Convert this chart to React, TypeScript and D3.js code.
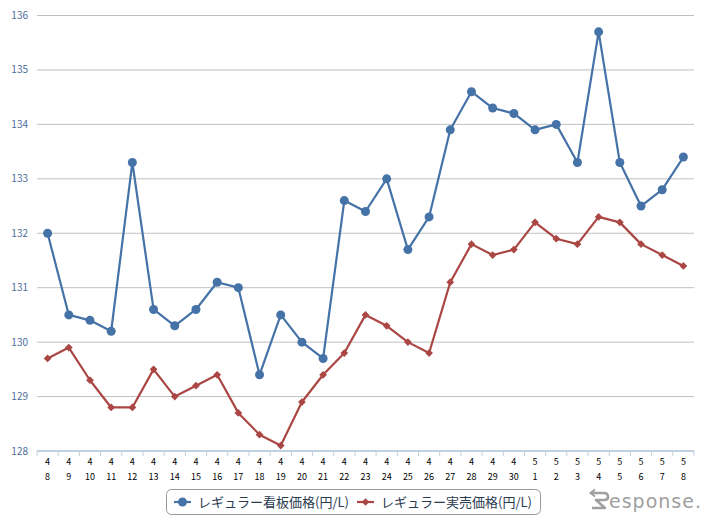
import { useEffect, useRef } from 'react'
import * as d3 from 'd3'

const months = ['4','4','4','4','4','4','4','4','4','4','4','4','4','4','4','4','4','4','4','4','4','4','4','5','5','5','5','5','5','5','5']
const days = ['8','9','10','11','12','13','14','15','16','17','18','19','20','21','22','23','24','25','26','27','28','29','30','1','2','3','4','5','6','7','8']
const signPrice = [132.0, 130.5, 130.4, 130.2, 133.3, 130.6, 130.3, 130.6, 131.1, 131.0, 129.4, 130.5, 130.0, 129.7, 132.6, 132.4, 133.0, 131.7, 132.3, 133.9, 134.6, 134.3, 134.2, 133.9, 134.0, 133.3, 135.7, 133.3, 132.5, 132.8, 133.4]
const realPrice = [129.7, 129.9, 129.3, 128.8, 128.8, 129.5, 129.0, 129.2, 129.4, 128.7, 128.3, 128.1, 128.9, 129.4, 129.8, 130.5, 130.3, 130.0, 129.8, 131.1, 131.8, 131.6, 131.7, 132.2, 131.9, 131.8, 132.3, 132.2, 131.8, 131.6, 131.4]
const yTicks = [128, 129, 130, 131, 132, 133, 134, 135, 136]
const seriesNames = ['レギュラー看板価格(円/L)', 'レギュラー実売価格(円/L)']

const BLUE = '#4572A7'
const RED = '#AA4643'
const FONT = '"Noto Sans CJK JP", "DejaVu Sans", sans-serif'

export default function App() {
  const svgRef = useRef<SVGSVGElement>(null)

  useEffect(() => {
    const W = 715
    const H = 525
    const svg = d3.select(svgRef.current)
    svg.selectAll('*').remove()

    const left = 37
    const right = 694
    const top = 15.5
    const bottom = 451

    const idx = d3.range(days.length).map(String)
    const x = d3.scaleBand().domain(idx).range([left, right])
    const cx = (i: number) => (x(String(i)) as number) + x.bandwidth() / 2
    const y = d3.scaleLinear().domain([128, 136]).range([bottom, top])

    // gridlines
    svg.append('g').selectAll('line')
      .data(yTicks.slice(1))
      .join('line')
      .attr('x1', left).attr('x2', right)
      .attr('y1', d => y(d)).attr('y2', d => y(d))
      .attr('stroke', '#c0c0c0').attr('stroke-width', 1)

    // y labels
    svg.append('g').selectAll('text')
      .data(yTicks)
      .join('text')
      .attr('x', 28)
      .attr('y', d => y(d) + 3.5)
      .attr('text-anchor', 'end')
      .attr('fill', '#4d6d9a')
      .attr('font-size', '10px')
      .attr('font-family', FONT)
      .text(d => d)

    // x axis
    svg.append('line')
      .attr('x1', left).attr('x2', right)
      .attr('y1', bottom).attr('y2', bottom)
      .attr('stroke', '#c0d0e0').attr('stroke-width', 2)
    svg.append('g').selectAll('line')
      .data(d3.range(days.length + 1))
      .join('line')
      .attr('x1', i => left + i * x.step()).attr('x2', i => left + i * x.step())
      .attr('y1', bottom).attr('y2', bottom + 5)
      .attr('stroke', '#c0d0e0').attr('stroke-width', 1)

    const xl = svg.append('g')
    xl.selectAll('.m')
      .data(months)
      .join('text')
      .attr('class', 'm')
      .attr('x', (_, i) => cx(i))
      .attr('y', 465)
      .attr('text-anchor', 'middle')
      .attr('font-size', '9px')
      .attr('font-family', FONT)
      .attr('fill', '#000')
      .text(d => d)
    xl.selectAll('.d')
      .data(days)
      .join('text')
      .attr('class', 'd')
      .attr('x', (_, i) => cx(i))
      .attr('y', 480)
      .attr('text-anchor', 'middle')
      .attr('font-size', '9px')
      .attr('font-family', FONT)
      .attr('fill', '#000')
      .text(d => d)

    const line = d3.line<number>().x((_, i) => cx(i)).y(d => y(d))

    // red series
    svg.append('path')
      .attr('d', line(realPrice))
      .attr('fill', 'none').attr('stroke', RED).attr('stroke-width', 2.2)
      .attr('stroke-linejoin', 'round')
    const diamond = d3.symbol().type(d3.symbolSquare).size(30)
    svg.append('g').selectAll('path')
      .data(realPrice)
      .join('path')
      .attr('d', diamond())
      .attr('transform', (d, i) => `translate(${cx(i)},${y(d)}) rotate(45)`)
      .attr('fill', RED)

    // blue series
    svg.append('path')
      .attr('d', line(signPrice))
      .attr('fill', 'none').attr('stroke', BLUE).attr('stroke-width', 2.2)
      .attr('stroke-linejoin', 'round')
    svg.append('g').selectAll('circle')
      .data(signPrice)
      .join('circle')
      .attr('cx', (_, i) => cx(i))
      .attr('cy', d => y(d))
      .attr('r', 4.5)
      .attr('fill', BLUE)

    // legend
    const lg = svg.append('g')
    lg.append('rect')
      .attr('x', 166.5).attr('y', 489.5)
      .attr('width', 374).attr('height', 25)
      .attr('rx', 5)
      .attr('fill', '#fff').attr('stroke', '#999')
    const items = [
      { name: seriesNames[0], color: BLUE, x: 174, shape: 'circle' },
      { name: seriesNames[1], color: RED, x: 357, shape: 'diamond' }
    ]
    items.forEach(it => {
      lg.append('line')
        .attr('x1', it.x).attr('x2', it.x + 17)
        .attr('y1', 502).attr('y2', 502)
        .attr('stroke', it.color).attr('stroke-width', 2.2)
      if (it.shape === 'circle') {
        lg.append('circle').attr('cx', it.x + 8.5).attr('cy', 502).attr('r', 4.5).attr('fill', it.color)
      } else {
        lg.append('path').attr('d', diamond()).attr('transform', `translate(${it.x + 8.5},502) rotate(45)`).attr('fill', it.color)
      }
      lg.append('text')
        .attr('x', it.x + 24)
        .attr('y', 507)
        .attr('font-size', '13px')
        .attr('font-family', FONT)
        .attr('fill', '#2a3a50')
        .text(it.name)
    })

    // watermark: stylised "R" with return arrow, then text
    const wm = svg.append('g').attr('fill', 'none').attr('stroke', '#a0a0a0')
    wm.append('path')
      .attr('d', 'M592,493 L604,493 Q608,493 608,497 Q608,500 604,500 L596,500 L605,508 L592,508')
      .attr('stroke-width', 2.6)
      .attr('stroke-linejoin', 'round')
    wm.append('path')
      .attr('d', 'M595,489.5 L590.5,493 L595,496.5')
      .attr('stroke-width', 2)
    svg.append('text')
      .attr('x', 609).attr('y', 508)
      .attr('font-size', '19px')
      .attr('font-family', '"DejaVu Sans", sans-serif')
      .attr('fill', '#a0a0a0')
      .attr('letter-spacing', '1')
      .text('esponse.')

    svg.attr('width', W).attr('height', H)
  }, [])

  return (
    <div style={{ position: 'absolute', left: 0, top: 0, width: 715, height: 525, background: '#fff' }}>
      <svg ref={svgRef} style={{ display: 'block' }} />
    </div>
  )
}
